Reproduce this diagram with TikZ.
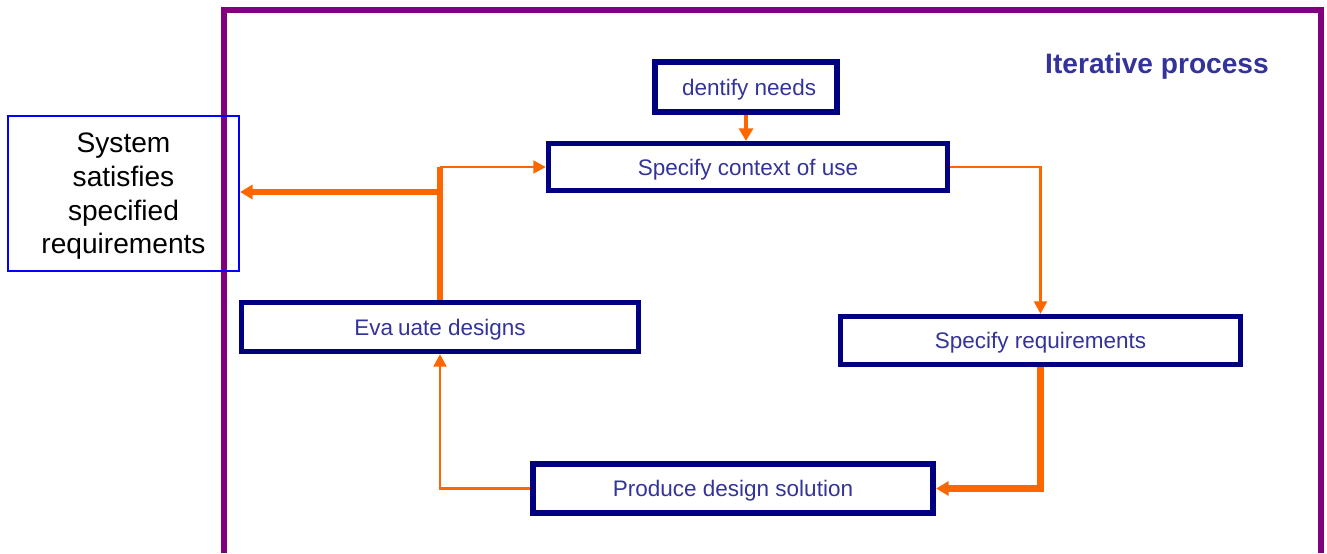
\documentclass[tikz,border=0pt]{standalone}
\usepackage{fontspec}
\setmainfont{Liberation Sans}
\usetikzlibrary{arrows.meta}
\definecolor{frame}{RGB}{128,0,128}
\definecolor{boxline}{RGB}{0,0,128}
\definecolor{boxtext}{RGB}{51,51,153}
\definecolor{flow}{RGB}{255,102,0}
\definecolor{goal}{RGB}{0,0,255}
\begin{document}
\begin{tikzpicture}[x=0.025cm, y=-0.025cm,
	stage/.style={draw=boxline, line width=3.6pt, text=boxtext, minimum height=1.2cm, text height=11.5pt, text depth=0pt, font=\fontsize{16}{19}\selectfont},
	flowthin/.style={draw=flow, line width=2.1pt, -{Triangle[length=9pt,width=9pt]}},
	flowthick/.style={draw=flow, line width=4.3pt, -{Triangle[length=9pt,width=10pt]}}]
	\useasboundingbox (0, 0) rectangle (1327, 553);
	\draw[frame, line width=4.3pt] (224, 553) -- (224, 10) -- (1321, 10) -- (1321, 553);
	\node[text=boxtext, text height=14.3pt, text depth=0pt, font=\bfseries\fontsize{20}{24}\selectfont] at (1157, 63) (title) {Iterative process};
	\node[stage, line width=4.3pt, minimum width=4.55cm, minimum height=1.25cm] at (746, 87) (needs) {\phantom{I}dentify needs};
	\node[stage, minimum width=9.975cm, minimum height=1.175cm] at (748, 167) (context) {Specify context of use};
	\node[stage, minimum width=10cm] at (1040.5, 340.5) (reqs) {Specify requirements};
	\node[stage, line width=4.3pt, minimum width=10cm, minimum height=1.225cm] at (733, 488.5) (produce) {Produce design solution};
	\node[stage, minimum width=9.925cm, minimum height=1.225cm] at (440, 327) (evaluate) {Eva\phantom{l}uate designs};
	\node[draw=goal, line width=1.4pt, minimum width=5.775cm, minimum height=3.875cm, align=center, text depth=0pt, font=\fontsize{20}{24}\selectfont] at (123.5, 193.5) (system) {System\\satisfies\\specified\\requirements};
	\draw[flowthick, line width=3pt] (needs.south) -- (needs.south |- context.north);
	\draw[flowthin] (context) -| (reqs);
	\draw[flowthick] (reqs) |- (produce);
	\draw[flowthin] (produce) -| (evaluate);
	\coordinate (split) at (440, 192);
	\coordinate (bend) at (440, 167);
	\draw[draw=flow, line width=4.3pt] (evaluate.north) -- (bend);
	\draw[flowthick] (split) -- (split -| system.east);
	\draw[flowthin] (bend) -- (context.west);
\end{tikzpicture}
\end{document}
